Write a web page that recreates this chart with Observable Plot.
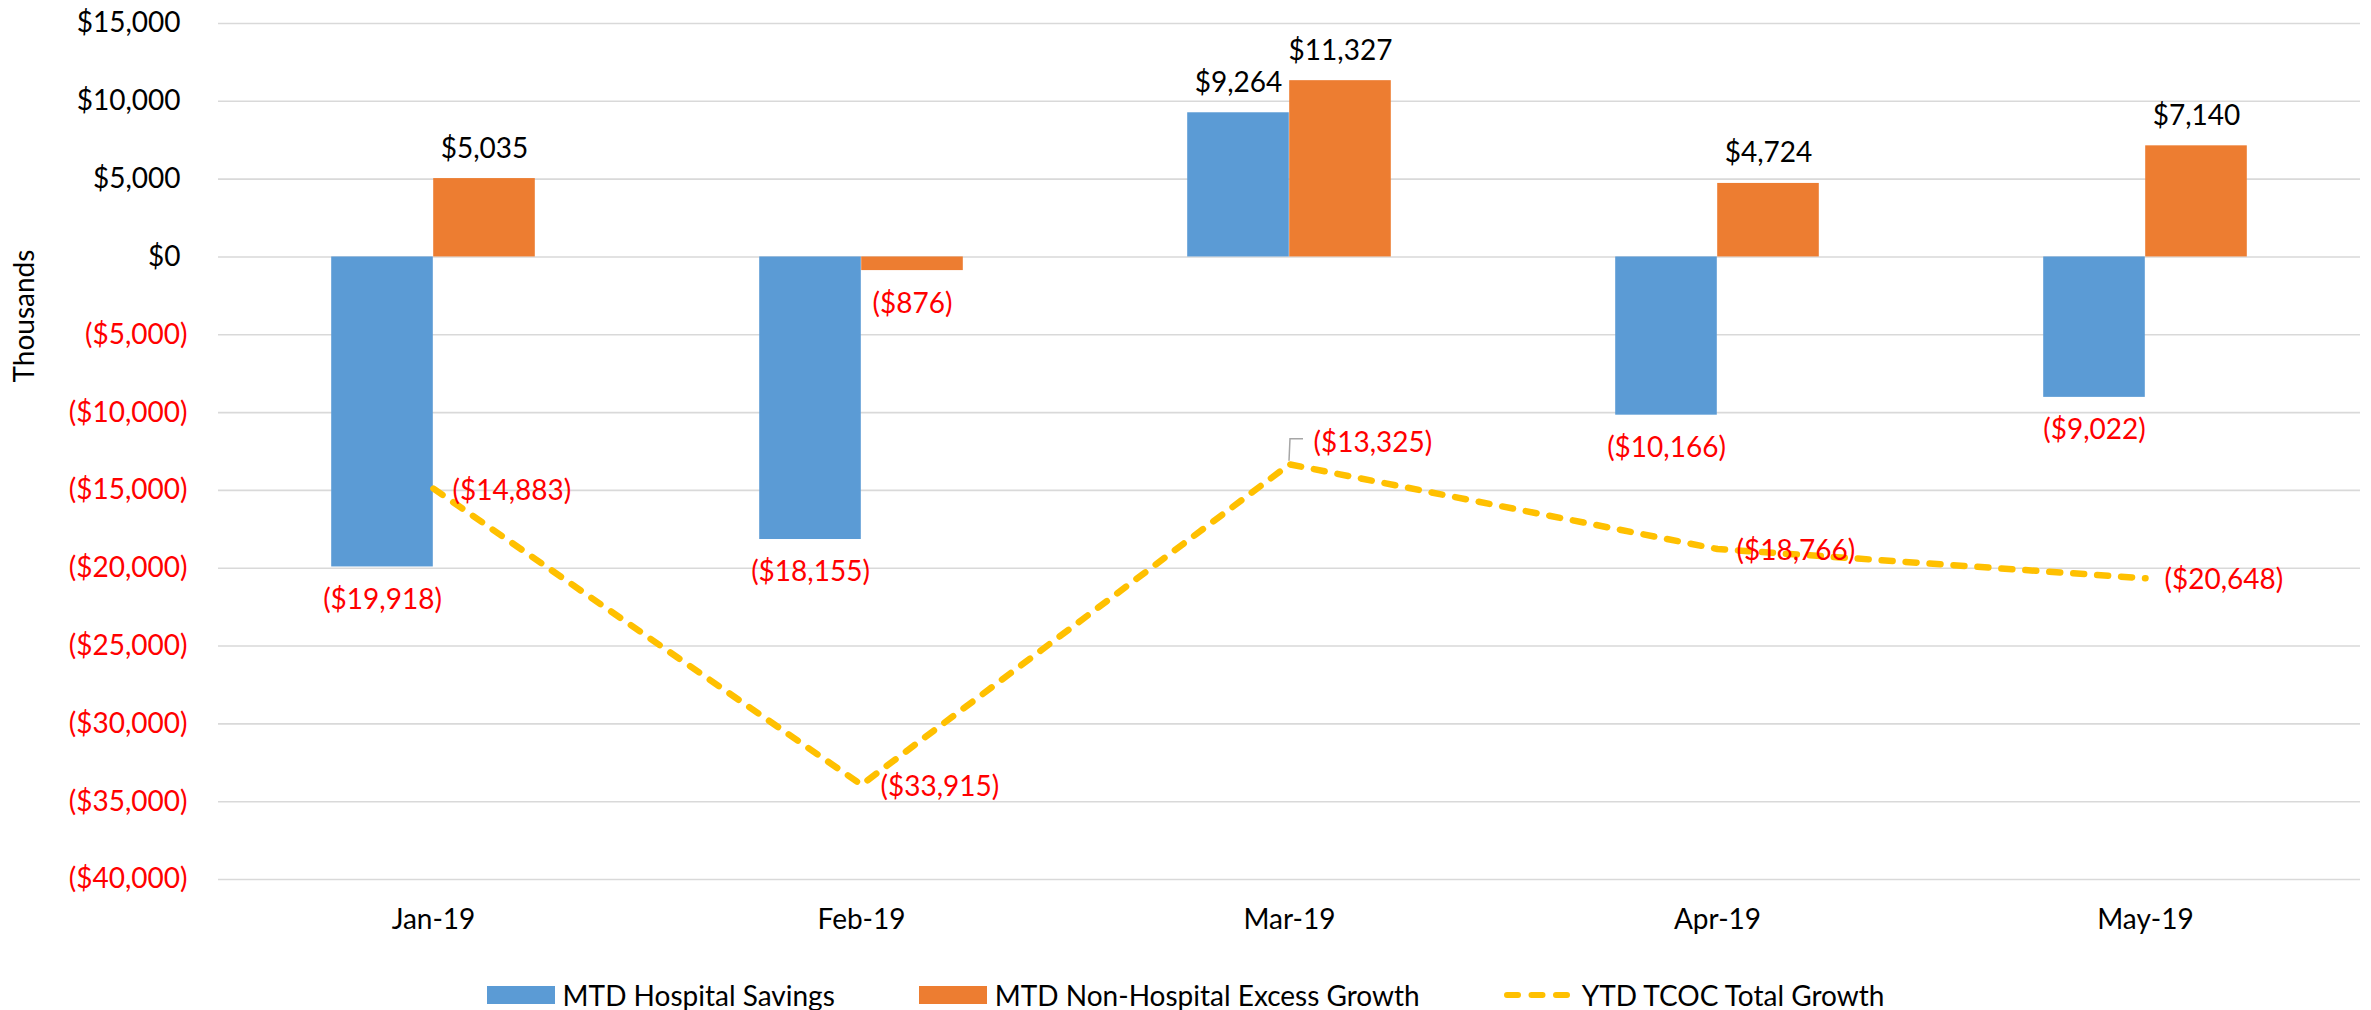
<!DOCTYPE html>
<html>
<head>
<meta charset="utf-8">
<script src="https://cdn.jsdelivr.net/npm/d3@7"></script>
<script src="https://cdn.jsdelivr.net/npm/@observablehq/plot@0.6"></script>
<style>
  html, body { margin: 0; padding: 0; background: #fff; }
  #chart { width: 2371px; }
  #legend { width: 2371px; height: 30px; display: flex; justify-content: center; align-items: center;
    font-family: Lato, sans-serif; font-size: 28px; color: #000; }
  .item { display: flex; align-items: center; margin: 0 42px; }
  .sw { width: 68px; height: 18px; margin-right: 8px; }
</style>
</head>
<body>
<div id="chart"></div>
<div id="legend"></div>
<script>
const months = ["Jan-19", "Feb-19", "Mar-19", "Apr-19", "May-19"];
const hospitalSavings = [-19918, -18155, 9264, -10166, -9022];
const nonHospitalGrowth = [5035, -876, 11327, 4724, 7140];
const ytdTotalGrowth = [-14883, -33915, -13325, -18766, -20648];
const yTicks = [15000, 10000, 5000, 0, -5000, -10000, -15000, -20000, -25000, -30000, -35000, -40000];
const seriesNames = ["MTD Hospital Savings", "MTD Non-Hospital Excess Growth", "YTD TCOC Total Growth"];
const colors = ["#5b9bd5", "#ed7d31", "#ffc000"];

const comma = d3.format(",");
const fmt = v => v < 0 ? `($${comma(-v)})` : `$${comma(v)}`;

const hData = months.map((m, i) => ({month: m, value: hospitalSavings[i]}));
const oData = months.map((m, i) => ({month: m, value: nonHospitalGrowth[i]}));
const lData = months.map((m, i) => ({month: m, value: ytdTotalGrowth[i]}));

const RED = "#ff0000";
const FS = 28;

const leader = (index, scales) => {
  const ns = "http://www.w3.org/2000/svg";
  const g = document.createElementNS(ns, "g");
  const d = lData[2];
  const xs = scales.x;
  const x = xs(d.month) + (xs.bandwidth ? xs.bandwidth() / 2 : 0);
  const y = scales.y(d.value);
  const p = document.createElementNS(ns, "path");
  p.setAttribute("d", `M${x},${y - 3}L${x + 1},${y - 25}L${x + 14},${y - 25}`);
  p.setAttribute("fill", "none");
  p.setAttribute("stroke", "#a6a6a6");
  p.setAttribute("stroke-width", "1.5");
  g.appendChild(p);
  return g;
};

const chart = Plot.plot({
  width: 2371,
  height: 980,
  marginLeft: 218,
  marginRight: 11,
  marginTop: 23,
  marginBottom: 101,
  style: {fontFamily: "Lato, sans-serif", fontSize: FS + "px", background: "#fff", overflow: "visible"},
  x: {type: "band", domain: months, padding: 0},
  y: {domain: [-40000, 15000]},
  marks: [
    Plot.gridY(yTicks, {stroke: "#d9d9d9", strokeOpacity: 1, strokeWidth: 1.6}),
    Plot.axisY(yTicks.filter(v => v >= 0), {tickSize: 0, tickPadding: 31, dx: -7, tickFormat: fmt, fill: "#000", fontSize: FS, label: null}),
    Plot.axisY(yTicks.filter(v => v < 0), {tickSize: 0, tickPadding: 31, tickFormat: fmt, fill: RED, fontSize: FS, label: null}),
    Plot.axisX({tickSize: 0, tickPadding: 30, fill: "#000", fontSize: FS, label: null}),
    Plot.text(["Thousands"], {frameAnchor: "left", rotate: -90, dx: -193, dy: -69, fill: "#000", fontSize: FS}),
    Plot.barY(hData, {x: "month", y: "value", fill: colors[0], insetLeft: 112.2, insetRight: 214.2}),
    Plot.barY(oData, {x: "month", y: "value", fill: colors[1], insetLeft: 214.2, insetRight: 112.2}),
    Plot.lineY(lData, {x: "month", y: "value", stroke: colors[2], strokeWidth: 6.5, strokeDasharray: "11,13", strokeLinecap: "round"}),
    Plot.text(hData.filter(d => d.value >= 0), {x: "month", y: "value", text: d => fmt(d.value), dx: -51, dy: -30, fill: "#000", fontSize: FS}),
    Plot.text(hData.filter(d => d.value < 0), {x: "month", y: "value", text: d => fmt(d.value), dx: -51, dy: 33, fill: RED, fontSize: FS}),
    Plot.text(oData.filter(d => d.value >= 0), {x: "month", y: "value", text: d => fmt(d.value), dx: 51, dy: -30, fill: "#000", fontSize: FS}),
    Plot.text(oData.filter(d => d.value < 0), {x: "month", y: "value", text: d => fmt(d.value), dx: 51, dy: 33, fill: RED, fontSize: FS}),
    Plot.text(lData.filter((d, i) => i !== 2), {x: "month", y: "value", text: d => fmt(d.value), textAnchor: "start", dx: 19, dy: 2, fill: RED, fontSize: FS}),
    Plot.text(lData.filter((d, i) => i === 2), {x: "month", y: "value", text: d => fmt(d.value), textAnchor: "start", dx: 24, dy: -21, fill: RED, fontSize: FS}),
    leader
  ]
});
document.getElementById("chart").appendChild(chart);

const legend = document.getElementById("legend");
seriesNames.forEach((name, i) => {
  const item = document.createElement("div");
  item.className = "item";
  if (i < 2) {
    const sw = document.createElement("div");
    sw.className = "sw";
    sw.style.background = colors[i];
    item.appendChild(sw);
  } else {
    const ns = "http://www.w3.org/2000/svg";
    const svg = document.createElementNS(ns, "svg");
    svg.setAttribute("width", "66");
    svg.setAttribute("height", "18");
    svg.style.marginRight = "12px";
    const ln = document.createElementNS(ns, "line");
    ln.setAttribute("x1", "3"); ln.setAttribute("x2", "63");
    ln.setAttribute("y1", "9"); ln.setAttribute("y2", "9");
    ln.setAttribute("stroke", colors[2]);
    ln.setAttribute("stroke-width", "6");
    ln.setAttribute("stroke-linecap", "round");
    ln.setAttribute("stroke-dasharray", "11,13.5");
    svg.appendChild(ln);
    item.appendChild(svg);
  }
  const t = document.createElement("span");
  t.textContent = name;
  item.appendChild(t);
  legend.appendChild(item);
});
</script>
</body>
</html>
